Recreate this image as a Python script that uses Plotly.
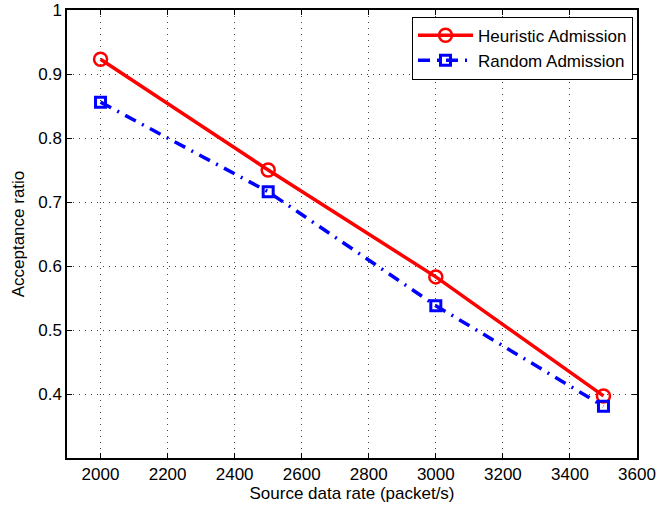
import plotly.graph_objects as go

# Source data rate (packet/s)
rates = [2000, 2500, 3000, 3500]
# Acceptance ratio for each admission policy
heuristic = [0.923, 0.750, 0.583, 0.397]
random_adm = [0.856, 0.716, 0.538, 0.381]

x_ticks = [2000, 2200, 2400, 2600, 2800, 3000, 3200, 3400, 3600]
y_ticks = [0.4, 0.5, 0.6, 0.7, 0.8, 0.9, 1.0]
y_tick_text = ["0.4", "0.5", "0.6", "0.7", "0.8", "0.9", "1"]

font_family = "Liberation Sans, Arial, Helvetica, sans-serif"
fsize = 17

fig = go.Figure()
fig.add_trace(go.Scatter(
    x=rates, y=heuristic, name="Heuristic Admission",
    mode="lines+markers",
    line=dict(color="#ff0000", width=3.5),
    marker=dict(symbol="circle-open", size=13, color="#ff0000",
                line=dict(width=2.5, color="#ff0000")),
))
fig.add_trace(go.Scatter(
    x=rates, y=random_adm, name="Random Admission",
    mode="lines+markers",
    line=dict(color="#0000ff", width=3.5, dash="12px,7px,2px,7px"),
    marker=dict(symbol="square-open", size=10, color="#0000ff",
                line=dict(width=3, color="#0000ff")),
))

axis_common = dict(
    showline=True, linecolor="black", linewidth=1.5, mirror="ticks",
    ticks="inside", ticklen=5, tickcolor="black", tickwidth=1,
    showgrid=True, gridcolor="#444444", gridwidth=1, griddash="1px,5px",
    zeroline=False, automargin=False,
    tickfont=dict(family=font_family, size=fsize, color="black"),
)

fig.update_xaxes(
    range=[1900, 3600], tickvals=x_ticks,
    title=dict(text="Source data rate (packet/s)",
               font=dict(family=font_family, size=fsize, color="black"),
               standoff=3),
    **axis_common,
)
fig.update_yaxes(
    range=[0.3, 1.0], tickvals=y_ticks, ticktext=y_tick_text,
    title=dict(text="Acceptance ratio",
               font=dict(family=font_family, size=fsize, color="black"),
               standoff=9),
    **axis_common,
)

fig.update_layout(
    width=660, height=510,
    margin=dict(l=67, r=23, t=10, b=52),
    paper_bgcolor="white", plot_bgcolor="white",
    font=dict(family=font_family, size=fsize, color="black"),
    legend=dict(
        x=0.993, y=0.985, xanchor="right", yanchor="top",
        bgcolor="white", bordercolor="black", borderwidth=1,
        font=dict(family=font_family, size=fsize, color="black"),
        tracegroupgap=0, itemwidth=55,
    ),
    showlegend=True,
)

fig.write_html("out.html")
